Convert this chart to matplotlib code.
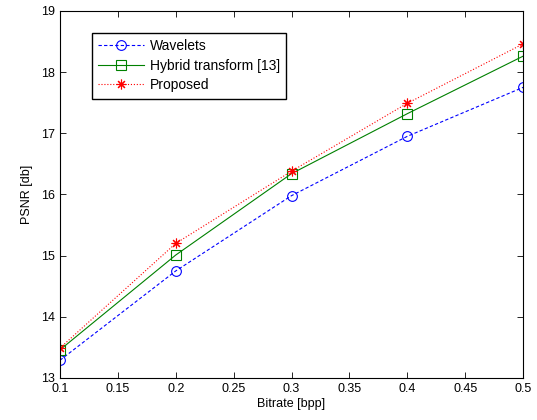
import matplotlib
matplotlib.use('Agg')
import matplotlib.pyplot as plt

bitrate = [0.1, 0.2, 0.3, 0.4, 0.5]
wavelets = [13.29, 14.75, 15.98, 16.95, 17.75]
hybrid = [13.46, 15.01, 16.34, 17.32, 18.26]
proposed = [13.49, 15.20, 16.38, 17.49, 18.46]

xticks = [0.1, 0.15, 0.2, 0.25, 0.3, 0.35, 0.4, 0.45, 0.5]
xticklabels = ['0.1', '0.15', '0.2', '0.25', '0.3', '0.35', '0.4', '0.45', '0.5']
yticks = [13, 14, 15, 16, 17, 18, 19]

plt.rcParams['font.family'] = ['Liberation Sans', 'DejaVu Sans']
plt.rcParams['font.size'] = 9

fig = plt.figure(figsize=(5.37, 4.2), dpi=100)
ax = fig.add_axes([0.1117, 0.1, 0.8623, 0.874])

ax.plot(bitrate, wavelets, color='#0000ff', linestyle='--', linewidth=0.8,
        marker='o', markersize=7, markerfacecolor='none', markeredgewidth=0.8,
        dashes=(3, 2), label='Wavelets')
ax.plot(bitrate, hybrid, color='#008000', linestyle='-', linewidth=0.8,
        marker='s', markersize=7, markerfacecolor='none', markeredgewidth=0.8,
        label='Hybrid transform [13]')
# matlab style asterisk: 8 thin spokes
ax.plot(bitrate, proposed, color='#ff0000', linestyle=':', linewidth=0.8,
        marker=(8, 2, 0), markersize=7, markeredgewidth=0.8,
        label='Proposed')

ax.set_xlim(0.1, 0.5)
ax.set_ylim(13, 19)
ax.set_xticks(xticks)
ax.set_xticklabels(xticklabels)
ax.set_yticks(yticks)
ax.tick_params(direction='in', top=True, right=True, length=4, width=0.6)
for spine in ax.spines.values():
    spine.set_linewidth(0.8)

ax.set_xlabel('Bitrate [bpp]', labelpad=2)
ax.set_ylabel('PSNR [db]', labelpad=6)

leg = ax.legend(loc='upper left', bbox_to_anchor=(0.069, 0.94), borderaxespad=0,
                fancybox=False, edgecolor='black', framealpha=1, borderpad=0.45,
                handlelength=3.3, handletextpad=0.4, labelspacing=0.4,
                fontsize=10)
leg.get_frame().set_linewidth(1.0)

fig.savefig('out.png', dpi=100)
